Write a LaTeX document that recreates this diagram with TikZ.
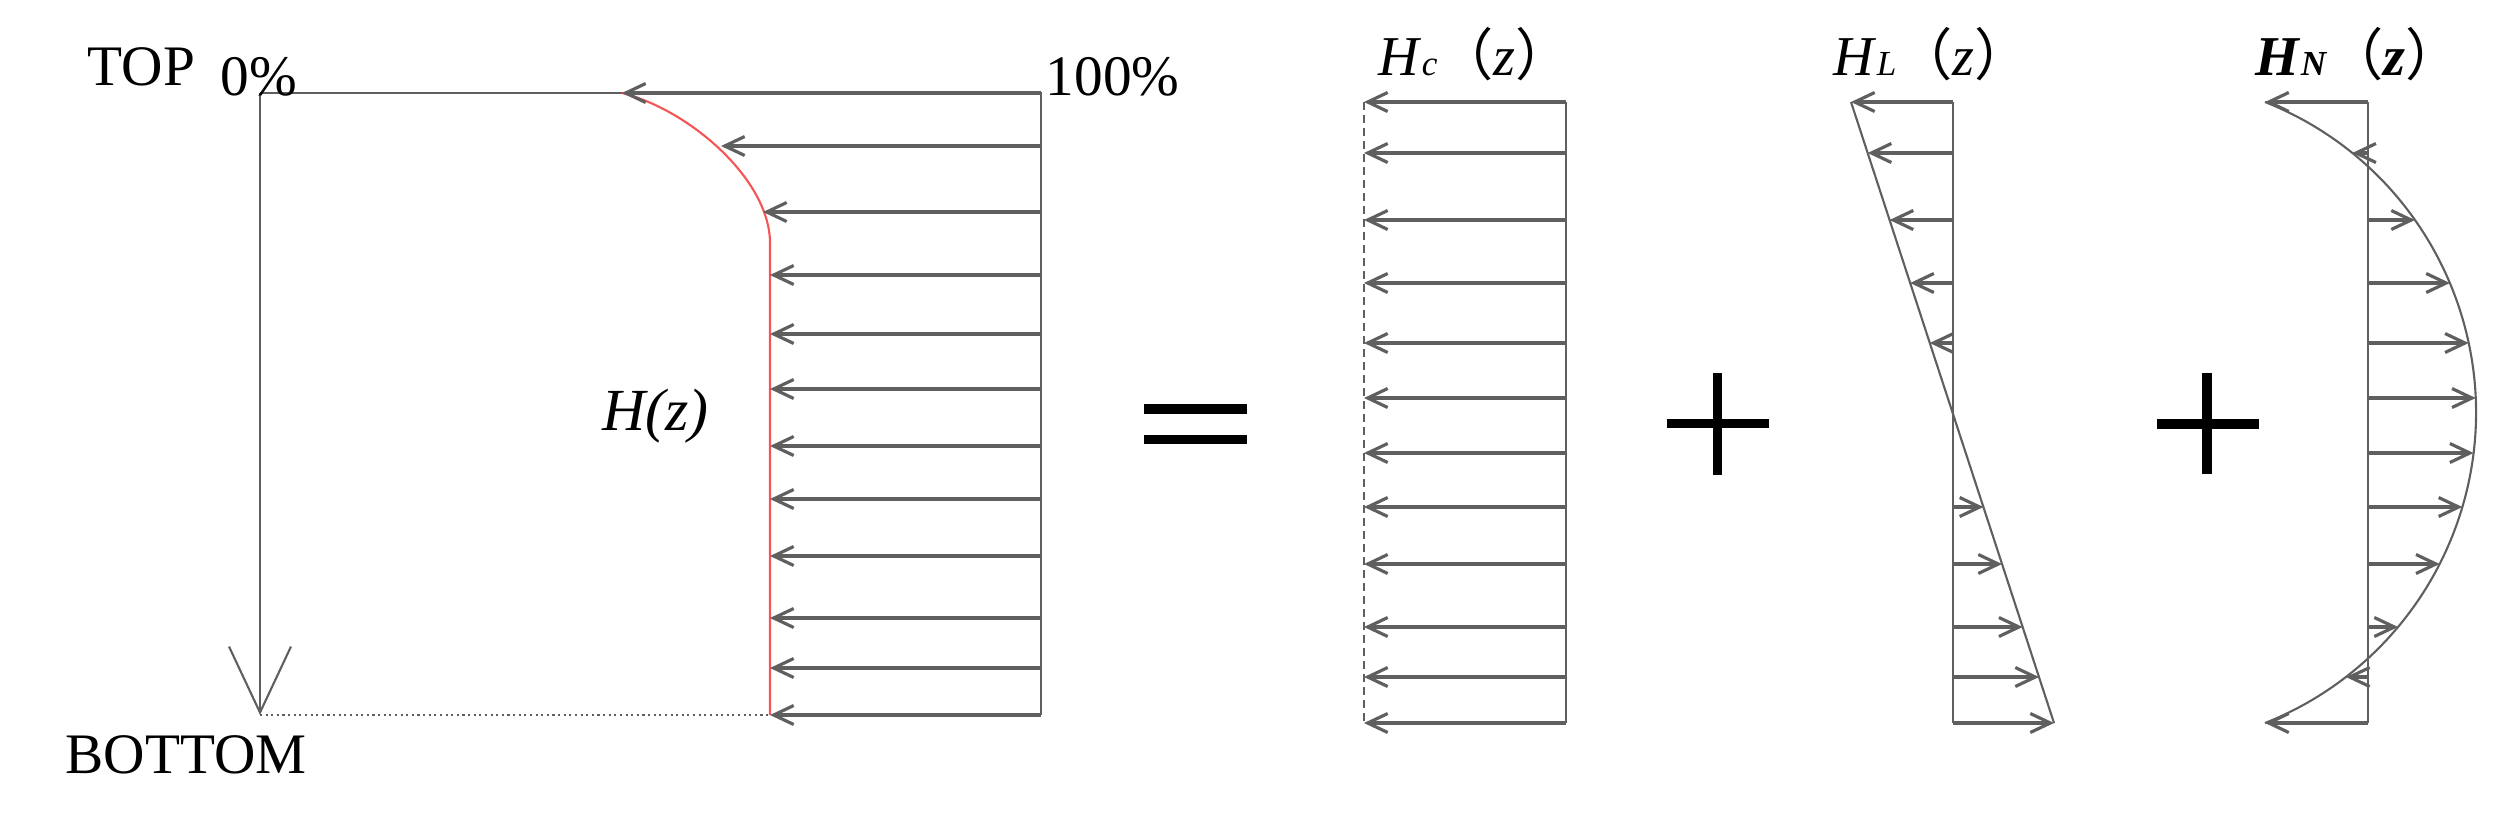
\documentclass[tikz,border=0pt]{standalone}
\usepackage{fontspec}
\setmainfont{Liberation Serif}
\newfontfamily\cjk{Noto Sans CJK SC}
\usetikzlibrary{arrows.meta}
\definecolor{curvered}{RGB}{245,85,85}
\definecolor{linegray}{RGB}{95,95,95}

\begin{document}
\begin{tikzpicture}[
    force/.style={linegray, line width=0.9pt, -{Straight Barb[length=2mm,width=1.9mm]}},
    wall/.style={linegray, line width=0.6pt},
    lbl/.style={inner sep=0pt, font=\fontsize{16.3}{19}\selectfont},
    head/.style={inner sep=0pt, font=\fontsize{16}{19}\selectfont},
    sym/.style={line width=2.6pt}
]
    \useasboundingbox (0,0) rectangle (25.11,8.27);

    % depth axis and frame
    \draw[wall, -{Straight Barb[length=6.6mm,width=6.2mm]}] (2.60,7.34) -- (2.60,1.12);
    \draw[wall] (2.60,7.34) -- (10.41,7.34) -- (10.41,1.12);
    \draw[wall, densely dotted] (2.60,1.12) -- (7.70,1.12);

    % total profile
    \draw[curvered, line width=0.6pt] (6.22,7.34) .. controls (6.90,7.17) and (7.70,6.47) .. (7.70,5.84) -- (7.70,1.12);
    \foreach \y/\x in {7.34/6.22, 6.81/7.21, 6.15/7.63, 5.52/7.70, 4.93/7.70, 4.38/7.70,
                       3.81/7.70, 3.28/7.70, 2.71/7.70, 2.09/7.70, 1.59/7.70, 1.12/7.70}
        \draw[force] (10.41,\y) -- (\x,\y);

    % constant part
    \draw[wall, dash pattern=on 0.8mm off 0.5mm] (13.64,7.25) -- (13.64,1.04);
    \draw[wall] (15.66,7.25) -- (15.66,1.04);
    \foreach \y in {7.25,6.74,6.07,5.44,4.84,4.29,3.74,3.20,2.63,2.00,1.50,1.04}
        \draw[force] (15.66,\y) -- (13.64,\y);

    % linear part
    \draw[wall] (19.53,7.25) -- (19.53,1.04);
    \draw[wall] (18.51,7.25) -- (20.54,1.04);
    \foreach \y in {7.25,6.74,6.07,5.44,4.84,3.20,2.63,2.00,1.50,1.04}
        \draw[force] (19.53,\y) -- ({18.51+2.03*(7.25-\y)/6.21},\y);

    % nonlinear part
    \draw[wall] (23.68,7.25) -- (23.68,1.04);
    \draw[wall] (21.42,4.145) ++(68.4:3.34) arc[start angle=68.4, end angle=-68.4, radius=3.34];
    \foreach \y in {7.25,6.74,6.07,5.44,4.84,4.29,3.74,3.20,2.63,2.00,1.50,1.04}
        \draw[force] (23.68,\y) -- ({21.42+sqrt(3.34^2-(\y-4.145)^2)},\y);

    % operators
    \draw[sym] (11.44,4.18) -- (12.47,4.18);
    \draw[sym] (11.44,3.875) -- (12.47,3.875);
    \draw[sym] (16.67,4.035) -- (17.69,4.035);
    \draw[sym] (17.175,4.54) -- (17.175,3.52);
    \draw[sym] (21.57,4.03) -- (22.59,4.03);
    \draw[sym] (22.07,4.54) -- (22.07,3.53);

    % labels
    \node[lbl, anchor=base west] (top) at (0.87,7.42) {TOP};
    \node[lbl, anchor=base west] (zero) at (2.20,7.32) {0\%};
    \node[lbl, anchor=base west] (full) at (10.45,7.32) {100\%};
    \node[lbl, anchor=base west] (bottom) at (0.65,0.54) {BOTTOM};
    \node[lbl, anchor=base west, font=\fontsize{17}{20}\selectfont\itshape] (hz) at (6.02,3.97) {H(z)};
    \node[head, anchor=base west] (hc) at (13.78,7.52)
        {\textit{H}{\fontsize{10}{11}\selectfont\textit{c}}{\cjk（}\textit{z}{\cjk）}};
    \node[head, anchor=base west] (hl) at (18.33,7.52)
        {\textit{H}{\fontsize{10}{11}\selectfont\textit{L}}{\cjk（}\textit{z}{\cjk）}};
    \node[head, anchor=base west] (hn) at (22.55,7.52)
        {\textbf{\textit{H}}{\fontsize{10}{11}\selectfont\bfseries\textit{N}}{\cjk（}\textbf{\textit{z}}{\cjk）}};
\end{tikzpicture}
\end{document}
